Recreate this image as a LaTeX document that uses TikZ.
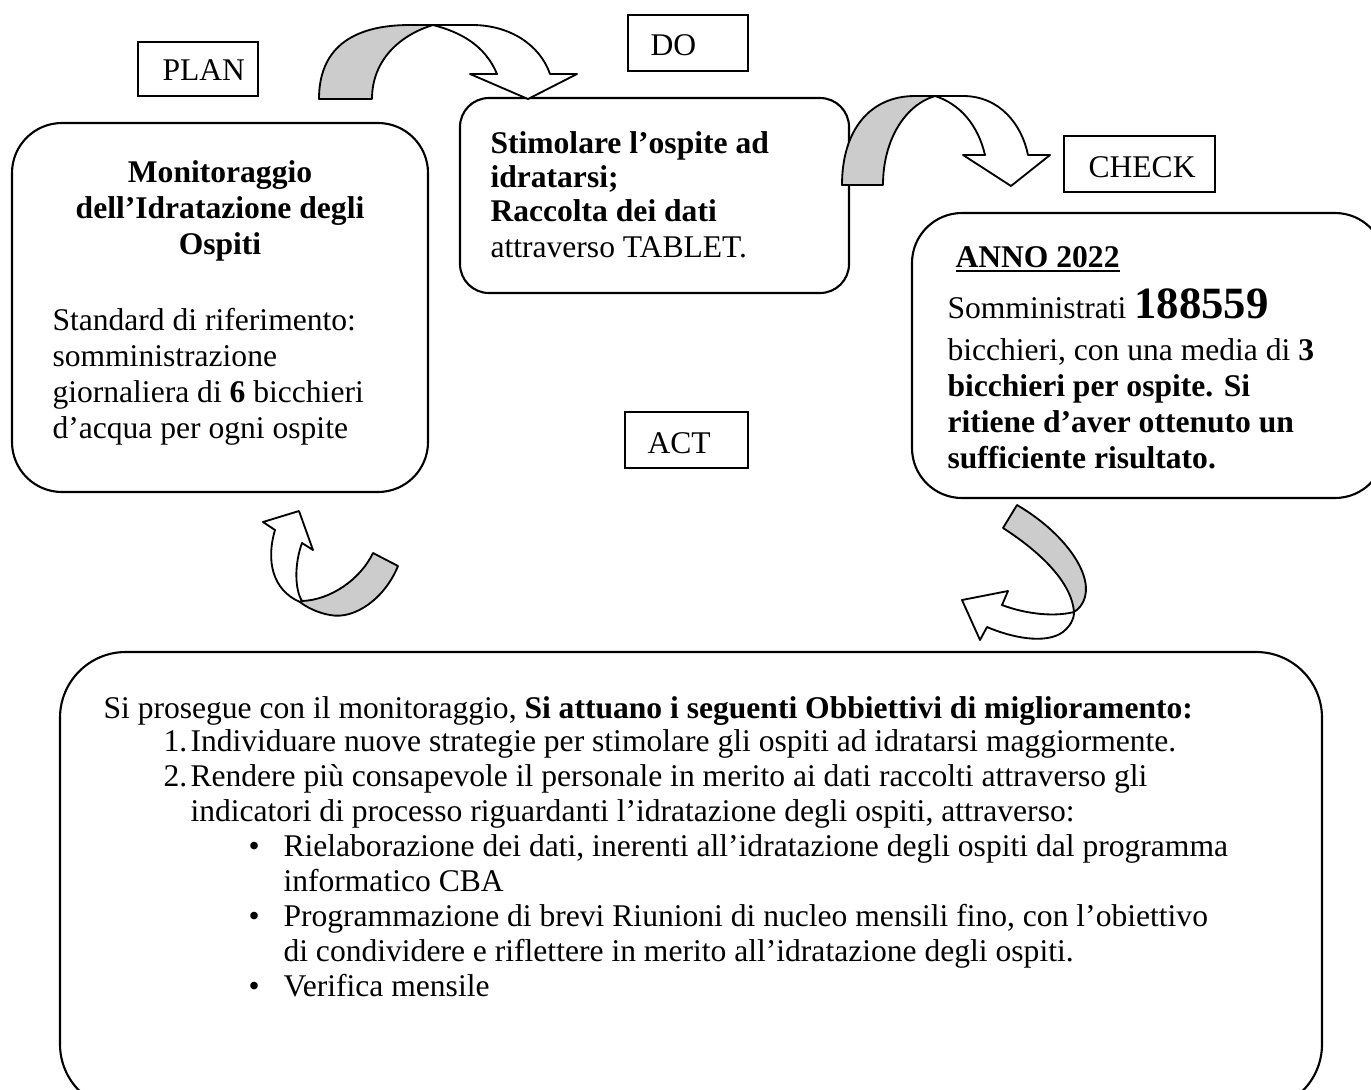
\documentclass[tikz,border=0pt]{standalone}
\usepackage{fontspec}
\setmainfont{Liberation Serif}
\usetikzlibrary{fit}
\definecolor{arrgray}{HTML}{CCCCCC}
\begin{document}
\begin{tikzpicture}[x=0.38pt,y=-0.38pt,
  txt/.style={inner sep=0pt, anchor=base west, font=\fontsize{12}{13.8}\selectfont},
  ctxt/.style={txt, anchor=base},
  bigbox/.style={draw, line width=0.8pt, inner sep=0pt},
  lblbox/.style={draw, line width=0.8pt, inner sep=0pt, rounded corners=0pt},
  arrow band/.style={draw, line width=0.7pt, line join=round},
]
\useasboundingbox (0,0) rectangle (1371,1089);
\clip (0,0) rectangle (1371,1089);

% ---------- boxes ----------
\node[bigbox, rounded corners=19pt, fit={(12,123) (428,492)}] (planbox) {};
\node[bigbox, rounded corners=11pt, fit={(460,98) (849,293)}] (dobox) {};
\node[bigbox, rounded corners=19pt, fit={(912,213) (1385,498)}] (checkbox) {};
\node[bigbox, rounded corners=25pt, fit={(60,652) (1322,1110)}] (actbox) {};

% ---------- label boxes ----------
\node[lblbox, fit={(138,42) (258,96)}] (planlbl) {};
\node[txt] (plantxt) at (162,80) {PLAN};
\node[lblbox, fit={(628,15) (748,71)}] (dolbl) {};
\node[txt] (dotxt) at (650,55) {DO};
\node[lblbox, fit={(1064,136) (1215,192)}] (checklbl) {};
\node[txt] (checktxt) at (1088,177) {CHECK};
\node[lblbox, fit={(625,412) (748,468)}] (actlbl) {};
\node[txt] (acttxt) at (647,453) {ACT};

% ---------- PLAN box text ----------
\node[ctxt, font=\fontsize{12}{13.8}\selectfont\bfseries] (p1) at (220,182) {Monitoraggio};
\node[ctxt, font=\fontsize{12}{13.8}\selectfont\bfseries] (p2) at (220,218) {dell’Idratazione degli};
\node[ctxt, font=\fontsize{12}{13.8}\selectfont\bfseries] (p3) at (220,254) {Ospiti};
\node[txt] (p4) at (52,330) {Standard di riferimento:};
\node[txt] (p5) at (52,366) {somministrazione};
\node[txt] (p6) at (52,402) {giornaliera di \textbf{6} bicchieri};
\node[txt] (p7) at (52,438) {d’acqua per ogni ospite};

% ---------- DO box text ----------
\node[txt, font=\fontsize{12}{13.8}\selectfont\bfseries] (d1) at (490,153) {Stimolare l’ospite ad};
\node[txt, font=\fontsize{12}{13.8}\selectfont\bfseries] (d2) at (490,187) {idratarsi;};
\node[txt, font=\fontsize{12}{13.8}\selectfont\bfseries] (d3) at (490,221) {Raccolta dei dati};
\node[txt] (d4) at (490,257) {attraverso TABLET.};

% ---------- CHECK box text ----------
\node[txt] (c1) at (955,267) {\textbf{\underline{ANNO 2022}}};
\node[txt] (c2) at (947,318) {Somministrati {\fontsize{17}{18}\selectfont\bfseries 188559}};
\node[txt] (c3) at (947,360) {bicchieri, con una media di \textbf{3}};
\node[txt, font=\fontsize{12}{13.8}\selectfont\bfseries] (c4) at (947,396) {bicchieri per ospite. Si};
\node[txt, font=\fontsize{12}{13.8}\selectfont\bfseries] (c5) at (947,432) {ritiene d’aver ottenuto un};
\node[txt, font=\fontsize{12}{13.8}\selectfont\bfseries] (c6) at (947,468) {sufficiente risultato.};

% ---------- ACT box text ----------
\node[txt] (a1) at (103,718) {Si prosegue con il monitoraggio, \textbf{Si attuano i seguenti Obbiettivi di miglioramento:}};
\node[txt] (a2n) at (163,751) {1.};
\node[txt] (a2) at (190,751) {Individuare nuove strategie per stimolare gli ospiti ad idratarsi maggiormente.};
\node[txt] (a3n) at (163,786) {2.};
\node[txt] (a3) at (190,786) {Rendere più consapevole il personale in merito ai dati raccolti attraverso gli};
\node[txt] (a4) at (190,821) {indicatori di processo riguardanti l’idratazione degli ospiti, attraverso:};
\node[txt] (a5b) at (248,856) {•};
\node[txt] (a5) at (283,856) {Rielaborazione dei dati, inerenti all’idratazione degli ospiti dal programma};
\node[txt] (a6) at (283,891) {informatico CBA};
\node[txt] (a7b) at (248,926) {•};
\node[txt] (a7) at (283,926) {Programmazione di brevi Riunioni di nucleo mensili fino, con l’obiettivo};
\node[txt] (a8) at (283,961) {di condividere e riflettere in merito all’idratazione degli ospiti.};
\node[txt] (a9b) at (248,996) {•};
\node[txt] (a9) at (283,996) {Verifica mensile};

% ---------- curved arrows ----------
% PLAN -> DO
\draw[arrow band, fill=arrgray] (319,99) .. controls (319,50) and (350,25) .. (410,25) -- (433,25)
  .. controls (400,35) and (372,60) .. (372,99) -- cycle;
\draw[arrow band, fill=white] (433,25) -- (472,25) .. controls (510,25) and (540,45) .. (550,74)
  -- (577,74) -- (528,99) -- (470,74) -- (497,74) .. controls (485,45) and (460,32) .. (433,25) -- cycle;
% DO -> CHECK
\draw[arrow band, fill=arrgray] (842,185) .. controls (842,130) and (870,96) .. (915,96) -- (935,96)
  .. controls (905,105) and (883,140) .. (883,185) -- cycle;
\draw[arrow band, fill=white] (935,96) -- (963,96) .. controls (1000,96) and (1022,125) .. (1028,155)
  -- (1050,155) -- (1011,186) -- (963,155) -- (985,155) .. controls (978,125) and (960,104) .. (935,96) -- cycle;
% CHECK -> ACT
\draw[arrow band, fill=arrgray] (1003,528) -- (1017,505) .. controls (1060,530) and (1092,570) .. (1085,597)
  .. controls (1083,604) and (1079,609) .. (1074,612) .. controls (1072,585) and (1045,555) .. (1003,528) -- cycle;
\draw[arrow band, fill=white] (1074,612) .. controls (1050,618) and (1020,612) .. (1002,605) -- (1008,591)
  -- (962,600) -- (980,640) -- (987,627) .. controls (1010,637) and (1045,645) .. (1063,632)
  .. controls (1070,626) and (1074,620) .. (1074,612) -- cycle;
% ACT -> PLAN
\draw[arrow band, fill=white] (300,602) .. controls (272,590) and (266,560) .. (275,530) -- (263,522)
  -- (299,511) -- (313,550) -- (302,543) .. controls (294,565) and (295,590) .. (302,601) -- cycle;
\draw[arrow band, fill=arrgray] (302,601) .. controls (330,600) and (360,580) .. (373,553) -- (398,566)
  .. controls (385,598) and (355,620) .. (330,615) .. controls (318,613) and (306,607) .. (300,602) -- cycle;
\end{tikzpicture}
\end{document}
